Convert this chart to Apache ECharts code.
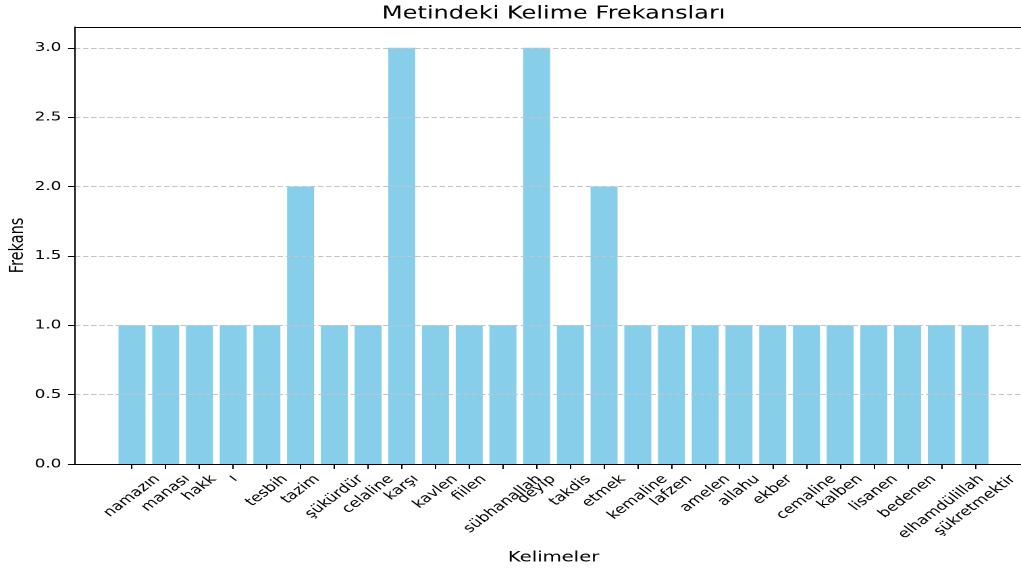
<!DOCTYPE html>
<html><head><meta charset="utf-8">
<script src="https://cdn.jsdelivr.net/npm/echarts@6/dist/echarts.min.js"></script>
<style>
html,body{margin:0;padding:0;background:#fff;overflow:hidden;width:1021px;height:574px}
#c{width:756px;height:574px;transform:scaleX(1.35053);transform-origin:0 0}
</style>
</head><body><div id="c"></div>
<script>
const chartTitle = 'Metindeki Kelime Frekansları';
const xAxisName = 'Kelimeler';
const yAxisName = 'Frekans';
const categories = ['namazın','manası','hakk','ı','tesbih','tazim','şükürdür','celaline','karşı','kavlen','fiilen','sübhanallah','deyip','takdis','etmek','kemaline','lafzen','amelen','allahu','ekber','cemaline','kalben','lisanen','bedenen','elhamdülillah','şükretmektir'];
const frequencies = [1,1,1,1,1,2,1,1,3,1,1,1,3,1,2,1,1,1,1,1,1,1,1,1,1,1];
const yTickValues = [0,0.5,1,1.5,2,2.5,3];
const yMax = 3.15;

const FONT = '"DejaVu Sans", sans-serif';
const TICK_FS = 12.5;
const LABEL_PAD = 8;      // gap between axis line and top of rotated label box
const ctx = document.createElement('canvas').getContext('2d');
ctx.font = TICK_FS + 'px "DejaVu Sans"';

const chart = echarts.init(document.getElementById('c'), null, { renderer: 'canvas', devicePixelRatio: 2 });
const black = '#000';
const frameAxisCommon = {
  gridIndex: 0, type: 'value', min: 0, max: 1, z: 4,
  axisLine: { show: true, lineStyle: { color: black, width: 1 } },
  axisTick: { show: false }, axisLabel: { show: false }, splitLine: { show: false }
};

// Rotated tick labels, centred on their tick like matplotlib's rotation=45
function renderTickLabel(params, api) {
  const idx = api.value(0);
  const text = categories[idx];
  const pt = api.coord([idx, 0]);
  const w = ctx.measureText(text).width;
  const H = (w + TICK_FS * 1.17) / Math.SQRT2;
  return {
    type: 'text',
    x: pt[0], y: pt[1] + LABEL_PAD + H / 2,
    rotation: Math.PI / 4,
    style: {
      text: text, align: 'center', verticalAlign: 'middle',
      fontFamily: FONT, fontSize: TICK_FS, fill: black
    }
  };
}

chart.setOption({
  animation: false,
  backgroundColor: '#fff',
  title: {
    text: chartTitle, left: 410, top: 5, textAlign: 'center', padding: 0,
    textStyle: { fontFamily: FONT, fontSize: 17.8, fontWeight: 'normal', color: black }
  },
  grid: [
    { left: 55.5, right: -8.2, top: 27, bottom: 110, outerBoundsMode: 'none', containLabel: false },
    { left: 85.26, right: 21.6, top: 27, bottom: 110, outerBoundsMode: 'none', containLabel: false }
  ],
  xAxis: [
    Object.assign({}, frameAxisCommon, {
      position: 'bottom', name: xAxisName, nameLocation: 'middle', nameGap: 86, nameMoveOverlap: false,
      nameTextStyle: { fontFamily: FONT, fontSize: 14.5, color: black }
    }),
    Object.assign({}, frameAxisCommon, { position: 'top' }),
    {
      gridIndex: 1, type: 'category', data: categories, position: 'bottom',
      axisLine: { show: false },
      axisTick: { show: true, alignWithLabel: true, interval: 0, length: 5, lineStyle: { color: black, width: 1 } },
      axisLabel: { show: false },
      splitLine: { show: false }
    }
  ],
  yAxis: [
    {
      gridIndex: 0, type: 'value', min: 0, max: yMax, interval: 0.5, z: 4,
      axisLine: { show: true, lineStyle: { color: black, width: 1 } },
      axisTick: { show: true, length: 5, customValues: yTickValues, lineStyle: { color: black, width: 1 } },
      axisLabel: {
        customValues: yTickValues, margin: 10, fontFamily: FONT, fontSize: 12.5, color: black,
        formatter: v => Number(v).toFixed(1)
      },
      splitLine: { show: true, lineStyle: { color: '#c4c4c4', type: [4, 2], width: 1 } },
      name: yAxisName, nameLocation: 'middle', nameGap: 35, nameMoveOverlap: false,
      nameTextStyle: { fontFamily: FONT, fontSize: 14.5, color: black }
    },
    { gridIndex: 1, type: 'value', min: 0, max: yMax, show: false }
  ],
  series: [
    {
      type: 'bar', xAxisIndex: 2, yAxisIndex: 1, data: frequencies, barWidth: '80%', z: 2,
      itemStyle: { color: '#87CEEB' }
    },
    {
      type: 'custom', xAxisIndex: 2, yAxisIndex: 1, clip: false, silent: true, z: 5,
      data: categories.map((c, i) => [i, 0]),
      renderItem: renderTickLabel
    }
  ]
});
</script>
</body></html>
